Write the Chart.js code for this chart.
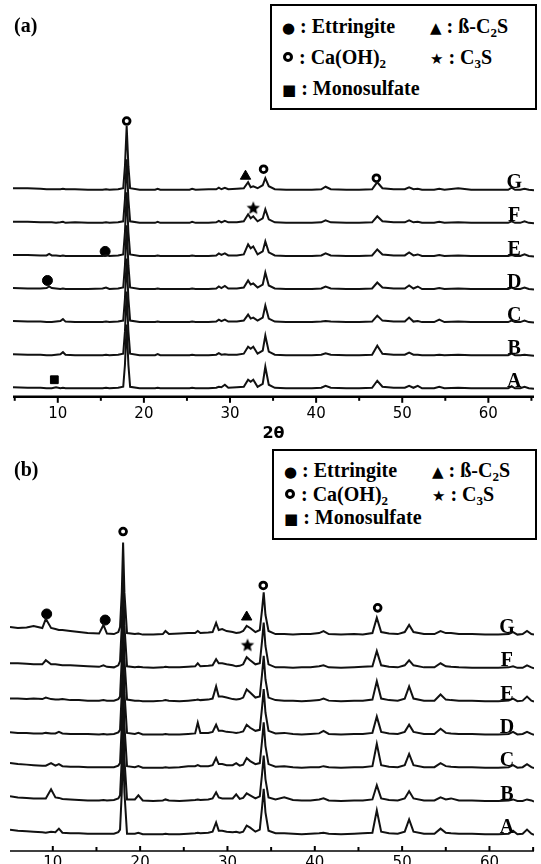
<!DOCTYPE html>
<html>
<head>
<meta charset="utf-8">
<script src="https://cdn.jsdelivr.net/npm/chart.js@4.4.1/dist/chart.umd.min.js"></script>
<style>
html, body { margin: 0; padding: 0; background: #fff; }
body { width: 541px; height: 864px; position: relative; overflow: hidden; }
.panel { position: absolute; left: 0; width: 541px; }
#wrapA { top: 0; height: 443px; }
#wrapB { top: 443px; height: 432px; }
.tag { position: absolute; left: 14px; font: bold 20px "Liberation Serif", serif; color: #000; }
.key { position: absolute; border: 2.5px solid #000; box-sizing: border-box; background: #fff;
       font: bold 20px "Liberation Serif", serif; color: #000; }
.key div { position: absolute; white-space: nowrap; line-height: 22px; }
.key sub { font-size: 13px; vertical-align: -4px; line-height: 0; }
.sym { font-family: "DejaVu Sans", sans-serif; font-size: 15px; }
.ring { display: inline-block; width: 4px; height: 4px; border: 3px solid #000; border-radius: 50%; vertical-align: 2px; margin: 0 1px; }
</style>
</head>
<body>
<div class="panel" id="wrapA"><canvas id="chartA" width="541" height="443"></canvas></div>
<div class="panel" id="wrapB"><canvas id="chartB" width="541" height="432"></canvas></div>

<div class="tag" style="top:14px">(a)</div>
<div class="tag" style="top:458px">(b)</div>

<div class="key" style="left:270px;top:4px;width:267px;height:106px">
  <div style="left:10px;top:9px"><span class="sym">●</span> : Ettringite</div>
  <div style="left:158px;top:9px"><span class="sym">▲</span> : ß-C<sub>2</sub>S</div>
  <div style="left:10px;top:40px"><span class="ring"></span> : Ca(OH)<sub>2</sub></div>
  <div style="left:158px;top:40px"><span class="sym">★</span> : C<sub>3</sub>S</div>
  <div style="left:10px;top:71px"><span class="sym">■</span> : Monosulfate</div>
</div>
<div class="key" style="left:272px;top:449px;width:265px;height:91px">
  <div style="left:10px;top:8px"><span class="sym">●</span> : Ettringite</div>
  <div style="left:158px;top:8px"><span class="sym">▲</span> : ß-C<sub>2</sub>S</div>
  <div style="left:10px;top:32px"><span class="ring"></span> : Ca(OH)<sub>2</sub></div>
  <div style="left:158px;top:32px"><span class="sym">★</span> : C<sub>3</sub>S</div>
  <div style="left:10px;top:55px"><span class="sym">■</span> : Monosulfate</div>
</div>

<script>
// trace names, bottom to top
const traceLabels = ['A', 'B', 'C', 'D', 'E', 'F', 'G'];
const tickValues = [5, 10, 15, 20, 25, 30, 35, 40, 45, 50, 55, 60, 65];

// panel (a): 2-theta grid and intensities (above each baseline)
const thetaA = [
  4.8, 6.5, 8.0, 8.7, 9.0, 9.3, 9.8, 10.3, 10.6, 10.9,
  12.0, 13.5, 15.2, 15.6, 16.0, 17.0, 17.6, 17.8, 18.0, 18.2,
  18.4, 19.5, 21.3, 21.6, 21.9, 23.5, 25.3, 25.6, 26.0, 27.5,
  28.4, 28.7, 29.0, 29.4, 29.8, 30.8, 31.6, 32.1, 32.4, 32.7,
  33.2, 33.8, 34.1, 34.5, 35.2, 36.5, 38.0, 39.5, 40.6, 41.1,
  41.7, 43.5, 45.0, 46.5, 47.1, 47.7, 49.0, 50.3, 50.8, 51.3,
  51.8, 52.3, 53.7, 54.3, 54.9, 56.5, 58.0, 59.5, 61.0, 62.3,
  62.7, 63.1, 63.7, 64.2, 64.7, 65.3
];
const aA = [
  1.5, 1, 1, 0.5, 0.5, 0.5, 1.5, 0.5, 1, 0.5,
  0.5, 0.5, 0.5, 1, 0.5, 1, 2, 24, 64, 24,
  2, 0.5, 0.5, 1, 0.5, 0.5, 0.5, 1, 0.5, 0.5,
  1, 2, 1.5, 4, 1, 1.5, 2, 9, 7, 9,
  2, 5, 22, 4, 1, 0.5, 0.5, 0.5, 1, 3,
  1, 0.5, 0.5, 1, 8, 2, 1, 1, 3, 1,
  3, 0.5, 0.5, 2, 0.5, 1, 0.5, 0.5, 0.5, 0.5,
  2.5, 0.5, 0.5, 2, 0.5, 0
];
const aB = [
  1.5, 1, 1, 0.5, 0.5, 0.5, 1, 1.5, 3.5, 1,
  0.5, 0.5, 0.5, 1, 0.5, 1, 2, 24, 64, 24,
  2, 0.5, 0.5, 1.5, 0.5, 0.5, 0.5, 1, 0.5, 0.5,
  1, 2.5, 1, 1.5, 1, 1, 2, 9, 7, 9,
  2, 5, 20, 4, 1, 0.5, 0.5, 0.5, 1, 2.5,
  1, 0.5, 0.5, 1, 10, 2, 1, 1, 3, 1,
  1, 0.5, 0.5, 1, 0.5, 1, 0.5, 0.5, 0.5, 0.5,
  2, 0.5, 0.5, 1, 0.5, 0
];
const aC = [
  1.5, 1, 1, 0.5, 0.5, 0.5, 1, 1.5, 3.5, 1,
  0.5, 0.5, 0.5, 1, 0.5, 1, 2, 24, 64, 24,
  2, 0.5, 0.5, 1, 0.5, 0.5, 0.5, 1, 0.5, 0.5,
  1, 3, 1.5, 3, 1, 1, 2, 8, 4, 5,
  2, 5, 17, 4, 1, 0.5, 0.5, 0.5, 1, 1.5,
  1, 0.5, 0.5, 1, 7, 2, 1, 1, 5, 1,
  1.5, 0.5, 0.5, 3, 0.5, 1, 0.5, 0.5, 0.5, 0.5,
  2, 0.5, 0.5, 2, 0.5, 0
];
const aD = [
  1.5, 1, 1, 1.5, 3, 1.5, 1, 0.5, 1, 0.5,
  0.5, 0.5, 1, 2, 0.5, 1, 2, 24, 64, 24,
  2, 0.5, 0.5, 1, 0.5, 0.5, 0.5, 1, 0.5, 0.5,
  1, 3, 1.5, 3.5, 1, 1, 2, 9, 5, 6,
  2, 5, 17, 4, 1, 0.5, 0.5, 0.5, 1, 3,
  1, 0.5, 0.5, 1, 7, 2, 1, 1, 4, 1,
  3, 0.5, 0.5, 1.5, 0.5, 1, 0.5, 0.5, 0.5, 0.5,
  2, 0.5, 0.5, 2, 0.5, 0
];
const aE = [
  1.5, 1.5, 1, 1, 2.5, 1, 1, 0.5, 1, 0.5,
  0.5, 0.5, 0.5, 1.5, 0.5, 1, 2, 24, 64, 24,
  2, 0.5, 0.5, 1, 0.5, 0.5, 0.5, 1, 0.5, 0.5,
  1, 3, 1.5, 3, 1, 1, 2, 12, 8, 10,
  2, 5, 15, 4, 1, 0.5, 0.5, 0.5, 1, 3,
  1, 0.5, 0.5, 1, 7, 2, 1, 1, 4, 1,
  2, 0.5, 0.5, 1.5, 0.5, 1, 0.5, 0.5, 0.5, 0.5,
  1.5, 0.5, 0.5, 2, 0.5, 0
];
const aF = [
  1.5, 1.5, 1, 1, 1, 1, 0.5, 1, 1.5, 0.5,
  1, 0.5, 0.5, 1, 0.5, 1, 2, 24, 64, 24,
  2, 0.5, 0.5, 1.5, 0.5, 0.5, 0.5, 1.5, 0.5, 0.5,
  1, 2.5, 1, 2.5, 1, 1, 2, 9, 5, 7,
  2, 5, 14, 4, 1, 0.5, 0.5, 0.5, 1, 3,
  1, 0.5, 0.5, 1, 7, 2, 1, 1, 3, 1,
  1.5, 0.5, 0.5, 1.5, 0.5, 1, 0.5, 0.5, 0.5, 0.5,
  2, 0.5, 0.5, 2, 0.5, 0
];
const aG = [
  2, 2, 1.5, 1, 1, 1, 1, 1, 1.5, 1,
  1, 0.5, 0.5, 1, 0.5, 1, 2, 24, 64, 24,
  2, 0.5, 0.5, 1.5, 0.5, 0.5, 0.5, 1.5, 0.5, 1,
  1, 2.5, 1, 2.5, 1, 1.5, 2, 8, 3, 4,
  2, 5, 12, 4, 1, 0.5, 0.5, 0.5, 1, 3.5,
  1, 0.5, 0.5, 1, 8, 2, 1, 1, 3, 1,
  1.5, 0.5, 0.5, 1.5, 0.5, 2, 0.5, 0.5, 0.5, 0.5,
  2.5, 0.5, 0.5, 1.5, 0.5, 0
];

// panel (b)
const thetaB = [
  5.1, 6.0, 7.0, 7.8, 8.8, 9.2, 9.8, 10.3, 10.7, 11.1, 12.0,
  13.0, 14.0, 15.3, 15.8, 16.2, 17.0, 17.5, 17.7, 17.9, 18.05, 18.2,
  18.5, 19.4, 19.8, 20.3, 21.5, 22.6, 22.9, 23.3, 24.5, 25.5, 26.3,
  26.6, 26.9, 27.8, 28.3, 28.7, 29.0, 29.4, 29.9, 30.6, 31.0, 31.4,
  31.8, 32.2, 32.6, 33.2, 33.7, 33.95, 34.15, 34.35, 34.7, 35.5, 36.5,
  37.5, 38.5, 39.5, 40.5, 41.0, 41.6, 43.0, 44.5, 45.5, 46.6, 47.1,
  47.6, 48.5, 49.5, 50.3, 50.8, 51.3, 52.5, 53.7, 54.4, 55.0, 55.6,
  56.5, 58.0, 59.5, 61.0, 62.2, 62.7, 63.2, 63.8, 64.3, 64.8, 65.1
];
const bA = [
  5, 4, 3.5, 3, 2.5, 2, 3, 2.5, 6, 2, 1.5,
  1.5, 1, 1, 1, 1, 1, 2.5, 5, 42, 91, 42,
  1, 1, 2, 0.5, 0.5, 0.5, 1, 0.5, 0.5, 1, 1.5,
  2, 1.5, 2, 3, 12, 4, 4, 3, 2.5, 3, 2,
  3, 9, 7, 3, 5, 26, 45, 22, 4, 1.5, 1.5,
  1, 0.5, 1, 1.5, 2, 1, 0.5, 1, 1.5, 2, 24,
  3, 1.5, 1, 3, 15, 3, 1, 1, 6, 2, 1.5,
  1, 1, 0.5, 0.5, 1, 4, 0.5, 1, 5, 1, 0
];
const bB = [
  5, 4, 3.5, 3, 3, 3, 12, 4, 3.5, 2.5, 2,
  1.5, 1, 1, 1.5, 1, 1.5, 3, 6, 42, 91, 42,
  2, 2, 6, 1, 0.5, 1, 2, 1, 0.5, 1, 1.5,
  2, 1.5, 2, 3, 9, 4, 3, 3, 3, 7, 2.5,
  3.5, 8, 6, 3, 5, 26, 45, 22, 4, 2, 4,
  1.5, 1, 1, 2, 3, 1, 0.5, 1, 1, 2, 16,
  3, 1.5, 1, 3, 10, 3, 1, 1, 4, 2, 3,
  1, 1, 0.5, 0.5, 1, 2, 0.5, 0.5, 2, 1, 0
];
const bC = [
  5, 4, 3.5, 3, 2.5, 2.5, 5, 2.5, 4, 2, 1.5,
  1.5, 1, 1, 1, 1, 1, 2.5, 5, 42, 91, 42,
  2, 1, 2, 0.5, 0.5, 0.5, 1, 0.5, 1, 2, 2,
  3, 2, 2, 3, 10, 4, 4, 3, 3, 5, 2.5,
  3.5, 10, 7, 4, 5, 26, 45, 22, 4, 1.5, 2,
  1, 0.5, 1, 1, 2, 1, 0.5, 1, 1, 2, 24,
  3, 1.5, 1, 3, 14, 3, 1, 1, 5, 2, 1.5,
  1, 1, 0.5, 0.5, 1, 3, 0.5, 1, 4, 1, 0
];
const bD = [
  2.5, 2, 2, 1.5, 1.5, 2, 1.5, 1.5, 3, 1.5, 1,
  1, 1, 0.5, 1, 0.5, 1, 2.5, 5, 42, 91, 42,
  2, 1, 2, 0.5, 0.5, 0.5, 1, 0.5, 0.5, 1, 1.5,
  12, 2, 2, 3, 10, 4, 4, 3, 2.5, 2, 2.5,
  3.5, 10, 7, 4, 5, 26, 45, 22, 4, 1.5, 2,
  1, 0.5, 1, 1.5, 4, 1, 0.5, 1, 1, 2, 18,
  3, 1.5, 1, 3, 10, 3, 1, 1, 6, 2, 1.5,
  1, 1, 0.5, 0.5, 1, 3, 0.5, 1, 3, 1, 0
];
const bE = [
  3, 3, 2.5, 3, 2.5, 4, 2.5, 2, 2, 2.5, 1.5,
  1.5, 1, 1, 1.5, 1, 1, 2.5, 5, 42, 91, 42,
  2, 1, 1, 0.5, 0.5, 1, 1.5, 1, 0.5, 1, 1.5,
  2, 1.5, 2, 3, 15, 5, 5, 4, 2.5, 2, 2.5,
  4, 12, 9, 4, 5, 26, 45, 22, 4, 1.5, 1,
  1, 0.5, 1, 1.5, 3, 1, 0.5, 1, 1, 2, 20,
  3, 1.5, 1, 3, 15, 3, 1, 1, 7, 2, 1.5,
  1, 1, 0.5, 0.5, 1, 3, 0.5, 1, 5, 1, 0
];
const bF = [
  5, 5, 4.5, 4, 4, 8, 4, 4, 3.5, 3, 3,
  2.5, 2, 1.5, 3, 1.5, 1, 3, 7, 42, 91, 42,
  2, 1, 1.5, 1, 0.5, 1, 1.5, 1, 1, 1.5, 2,
  5, 2, 2.5, 3, 9, 5, 5, 4, 3, 2, 2.5,
  4, 11, 8, 4, 5, 26, 45, 22, 4, 1, 1,
  0.5, 1, 1, 2, 3, 1, 0.5, 1, 1.5, 2, 17,
  3, 1.5, 1, 3, 8, 3, 1, 1, 5, 2, 1.5,
  1, 0.5, 0.5, 0.5, 1, 2, 0.5, 0.5, 3, 1, 0
];
const bG = [
  8, 7, 7.5, 9, 7, 16, 7, 6, 5, 5, 4,
  3, 2, 1.5, 10, 1.5, 1, 3, 8, 42, 91, 42,
  2, 1, 1.5, 0.5, 0.5, 1, 4, 1, 1.5, 2, 2,
  4, 2, 2.5, 3, 12, 5, 6, 4, 3, 2, 2.5,
  4, 9, 7, 3, 5, 24, 42, 20, 4, 1, 1,
  0.5, 1, 1, 2, 4, 1, 0.5, 1, 0.5, 2, 17,
  3, 1.5, 1, 3, 10, 3, 1, 1, 4, 2, 2,
  1, 1, 0.5, 0.5, 1, 3, 0.5, 1, 4, 1, 0.5
];

// phase markers [2theta, height]
const ettringiteA = [[8.8, 116], [15.5, 145]];
const monosulfateA = [[9.6, 17]];
const portlanditeA = [[18.0, 275], [33.9, 227], [47.0, 218]];
const beliteA = [[31.8, 220]];
const aliteA = [[32.7, 188]];

const ettringiteB = [[9.3, 233], [16.0, 227]];
const portlanditeB = [[18.05, 314], [34.1, 261], [47.2, 239]];
const beliteB = [[32.2, 230]];
const aliteB = [[32.3, 202]];

function starImage(r) {
  const c = document.createElement('canvas');
  c.width = c.height = 2 * r + 2;
  const g = c.getContext('2d');
  g.fillStyle = '#000';
  g.beginPath();
  for (let k = 0; k < 10; k++) {
    const rad = k % 2 ? r * 0.45 : r;
    const ang = -Math.PI / 2 + k * Math.PI / 5;
    g.lineTo(r + 1 + rad * Math.cos(ang), r + 1 + rad * Math.sin(ang));
  }
  g.closePath();
  g.fill();
  return c;
}

function traceSets(theta, series, base, step) {
  return series.map((vals, i) => ({
    label: traceLabels[i],
    letterY: base + i * step + 7,
    data: vals.map((v, k) => ({ x: theta[k], y: base + i * step + v })),
    borderColor: '#111',
    borderWidth: 2,
    pointRadius: 0,
    tension: 0,
    fill: false
  }));
}

function markerSet(points, style, radius, fillColor, borderWidth) {
  return {
    label: '',
    data: points.map(p => ({ x: p[0], y: p[1] })),
    showLine: false,
    pointStyle: style,
    pointRadius: radius,
    backgroundColor: fillColor,
    borderColor: '#000',
    borderWidth: borderWidth
  };
}

// axis line, tick marks and trace letters
const xrdAxis = {
  id: 'xrdAxis',
  afterDraw(chart, args, opts) {
    const { ctx, chartArea } = chart;
    const xs = chart.scales.x;
    const yAxis = chartArea.bottom;
    ctx.save();
    ctx.strokeStyle = '#000';
    ctx.lineWidth = opts.axisWidth;
    ctx.beginPath();
    ctx.moveTo(chartArea.left, yAxis);
    ctx.lineTo(chartArea.right, yAxis);
    ctx.stroke();
    ctx.lineWidth = 2;
    xs.ticks.forEach(t => {
      const px = xs.getPixelForValue(t.value);
      const len = t.value % 10 === 0 ? opts.major : opts.minor;
      ctx.beginPath();
      ctx.moveTo(px, yAxis);
      ctx.lineTo(px, yAxis + opts.dir * len);
      ctx.stroke();
    });
    ctx.font = 'bold 20px "Liberation Serif"';
    ctx.fillStyle = '#000';
    ctx.textAlign = 'center';
    ctx.textBaseline = 'middle';
    chart.data.datasets.forEach(ds => {
      if (ds.letterY === undefined) return;
      ctx.fillText(ds.label, xs.getPixelForValue(opts.letterX), chart.scales.y.getPixelForValue(ds.letterY));
    });
    ctx.restore();
  }
};

function makeChart(id, cfg) {
  return new Chart(document.getElementById(id), {
    type: 'line',
    data: { datasets: cfg.datasets },
    options: {
      responsive: false,
      animation: false,
      devicePixelRatio: 1,
      layout: { padding: cfg.padding },
      plugins: {
        legend: { display: false },
        tooltip: { enabled: false },
        xrdAxis: cfg.axis
      },
      scales: {
        x: {
          type: 'linear',
          min: cfg.xMin,
          max: cfg.xMax,
          afterBuildTicks: s => {
            s.ticks = tickValues.filter(v => v >= cfg.xMin && v <= cfg.xMax).map(v => ({ value: v }));
          },
          grid: { display: false, drawTicks: false },
          border: { display: false },
          ticks: {
            color: '#000',
            padding: cfg.tickPad,
            autoSkip: false,
            maxRotation: 0,
            font: { family: 'DejaVu Sans', size: 15 },
            callback: v => (v % 10 === 0 ? String(v) : '')
          },
          title: cfg.title
        },
        y: { display: false, min: 0, max: cfg.yMax }
      }
    },
    plugins: [xrdAxis]
  });
}

const star = starImage(7);

makeChart('chartA', {
  xMin: 4.8, xMax: 65.3, yMax: 300, tickPad: 8,
  padding: { top: 96, left: 13, right: 2, bottom: 0 },
  axis: { dir: 1, major: 6, minor: 4, axisWidth: 2.5, letterX: 63.0 },
  title: {
    display: true, text: '2θ', color: '#000',
    font: { family: 'DejaVu Sans', size: 16, weight: 'bold' },
    padding: { top: -7, bottom: 0 }
  },
  datasets: [
    ...traceSets(thetaA, [aA, aB, aC, aD, aE, aF, aG], 8, 33),
    markerSet(ettringiteA, 'circle', 5, '#000', 1),
    markerSet(monosulfateA, 'rect', 5.5, '#000', 1),
    markerSet(portlanditeA, 'circle', 3.4, '#fff', 2.8),
    markerSet(beliteA, 'triangle', 6, '#000', 1),
    markerSet(aliteA, star, 7, '#000', 0)
  ]
});

makeChart('chartB', {
  xMin: 5.1, xMax: 65.1, yMax: 345, tickPad: 3,
  padding: { top: 57, left: 10, right: 6, bottom: 0 },
  axis: { dir: -1, major: 5, minor: 4, axisWidth: 1.6, letterX: 62.0 },
  title: { display: false },
  datasets: [
    ...traceSets(thetaB, [bA, bB, bC, bD, bE, bF, bG], 16, 32.7),
    markerSet(ettringiteB, 'circle', 5, '#000', 1),
    markerSet(portlanditeB, 'circle', 3.4, '#fff', 2.8),
    markerSet(beliteB, 'triangle', 6, '#000', 1),
    markerSet(aliteB, star, 7, '#000', 0)
  ]
});
</script>
</body>
</html>
